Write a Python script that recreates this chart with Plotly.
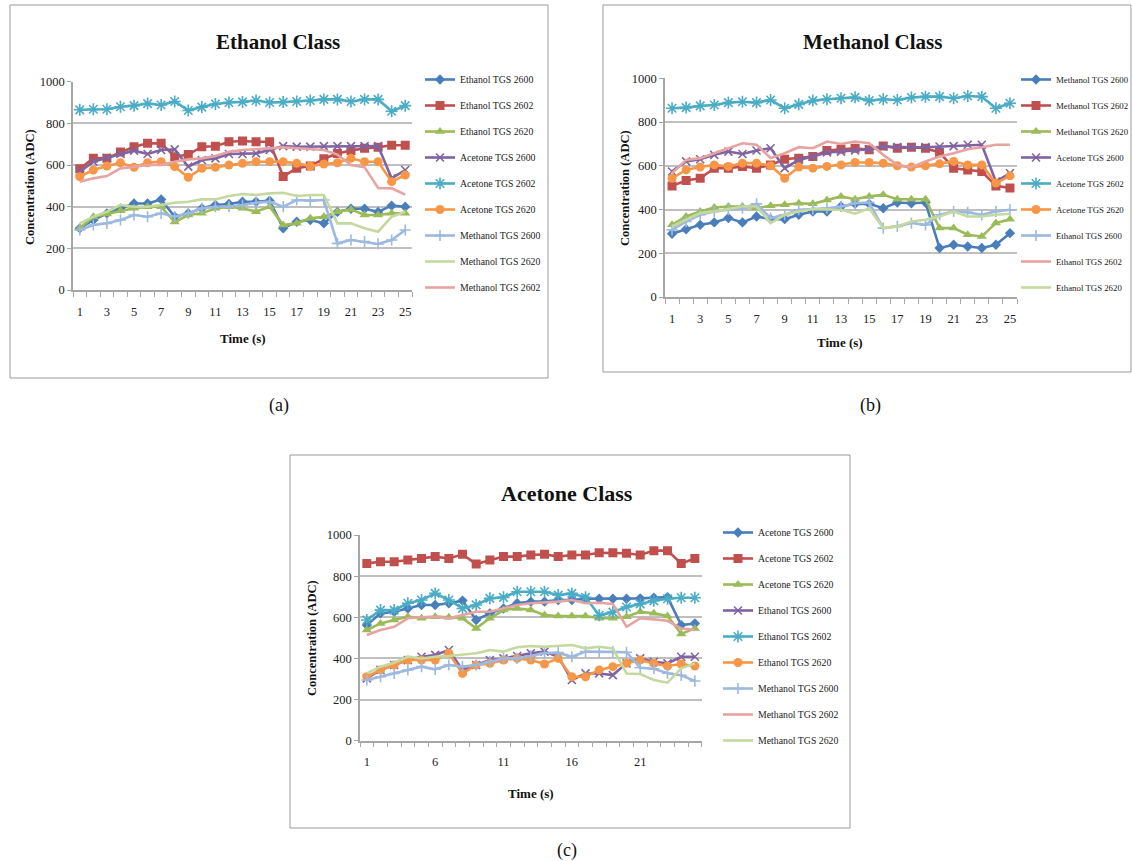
import plotly.graph_objects as go

W, H = 1132, 861
t = list(range(1, 26))

# ---------------- Panel (a) Ethanol Class ----------------
a_names = ["Ethanol TGS 2600", "Ethanol TGS 2602", "Ethanol TGS 2620", "Acetone TGS 2600",
           "Acetone TGS 2602", "Acetone TGS 2620", "Methanol TGS 2600", "Methanol TGS 2620",
           "Methanol TGS 2602"]
a_eth_2600 = [296, 336, 368, 392, 415, 415, 435, 352, 368, 392, 408, 413, 424, 424, 429, 296, 328, 336, 320, 375, 390, 390, 375, 405, 400]
a_eth_2602 = [582, 632, 633, 662, 688, 704, 704, 640, 650, 688, 690, 712, 715, 712, 712, 545, 585, 595, 630, 655, 670, 680, 685, 695, 695]
a_eth_2620 = [296, 352, 365, 380, 392, 400, 400, 326, 360, 368, 392, 400, 392, 376, 400, 312, 320, 344, 352, 376, 387, 360, 360, 368, 368]
a_ace_2600 = [568, 616, 635, 653, 669, 653, 672, 675, 592, 624, 632, 653, 653, 656, 672, 691, 688, 688, 691, 691, 691, 691, 691, 536, 576]
a_ace_2602 = [865, 868, 868, 880, 885, 895, 888, 905, 862, 878, 893, 900, 903, 910, 900, 902, 905, 910, 915, 915, 905, 915, 915, 858, 885]
a_ace_2620 = [544, 576, 595, 611, 589, 611, 616, 592, 541, 584, 589, 600, 608, 616, 616, 616, 608, 595, 605, 611, 632, 616, 616, 520, 552]
a_met_2600 = [288, 312, 320, 336, 360, 352, 368, 352, 368, 392, 400, 400, 408, 419, 424, 400, 432, 429, 432, 224, 240, 232, 221, 240, 288]
a_met_2620 = [320, 352, 376, 408, 400, 400, 408, 419, 424, 435, 435, 451, 461, 456, 464, 467, 451, 456, 456, 320, 320, 296, 280, 352, 376]
a_met_2602 = [520, 536, 547, 584, 592, 600, 600, 616, 627, 632, 643, 664, 672, 675, 680, 685, 680, 678, 672, 650, 600, 590, 490, 488, 458]
a_series = [a_eth_2600, a_eth_2602, a_eth_2620, a_ace_2600, a_ace_2602, a_ace_2620,
            a_met_2600, a_met_2620, a_met_2602]

# ---------------- Panel (b) Methanol Class ----------------
b_names = ["Methanol TGS 2600", "Methanol TGS 2602", "Methanol TGS 2620", "Acetone TGS 2600",
           "Acetone TGS 2602", "Acetone TGS 2620", "Ethanol TGS 2600", "Ethanol TGS 2602",
           "Ethanol TGS 2620"]
b_met_2600 = [289, 310, 330, 341, 361, 341, 368, 356, 356, 376, 391, 391, 414, 426, 426, 406, 432, 429, 432, 224, 239, 231, 224, 239, 292]
b_met_2602 = [508, 533, 543, 589, 589, 597, 589, 604, 630, 635, 642, 670, 676, 680, 673, 691, 680, 685, 680, 661, 589, 581, 574, 508, 498]
b_met_2620 = [330, 368, 391, 409, 414, 414, 406, 417, 422, 429, 426, 444, 460, 447, 460, 467, 447, 447, 447, 315, 315, 285, 277, 338, 356]
b_ace_2600 = [574, 620, 630, 650, 665, 654, 670, 680, 589, 627, 642, 661, 665, 670, 676, 688, 685, 685, 685, 688, 690, 696, 696, 528, 566]
b_ace_2602 = [863, 866, 874, 878, 889, 893, 889, 901, 863, 881, 898, 904, 909, 913, 898, 904, 901, 912, 916, 916, 909, 919, 916, 863, 886]
b_ace_2620 = [543, 581, 594, 604, 597, 612, 612, 600, 543, 594, 589, 597, 604, 615, 615, 612, 600, 594, 600, 609, 620, 604, 604, 521, 554]
b_eth_2600 = [307, 345, 376, 391, 399, 406, 426, 361, 376, 399, 402, 406, 414, 429, 432, 315, 323, 338, 330, 376, 391, 387, 376, 391, 399]
b_eth_2602 = [566, 627, 635, 657, 680, 703, 696, 635, 657, 685, 680, 711, 700, 711, 703, 650, 604, 594, 620, 642, 657, 676, 685, 696, 696]
b_eth_2620 = [323, 353, 384, 391, 402, 414, 414, 338, 376, 391, 402, 402, 399, 381, 406, 315, 323, 345, 353, 368, 391, 368, 368, 376, 381]
b_series = [b_met_2600, b_met_2602, b_met_2620, b_ace_2600, b_ace_2602, b_ace_2620,
            b_eth_2600, b_eth_2602, b_eth_2620]

# ---------------- Panel (c) Acetone Class ----------------
c_names = ["Acetone TGS 2600", "Acetone TGS 2602", "Acetone TGS 2620", "Ethanol TGS 2600",
           "Ethanol TGS 2602", "Ethanol TGS 2620", "Methanol TGS 2600", "Methanol TGS 2602",
           "Methanol TGS 2620"]
c_ace_2600 = [562, 619, 627, 643, 660, 660, 668, 681, 587, 619, 643, 668, 676, 676, 684, 684, 690, 690, 690, 690, 692, 695, 698, 562, 570]
c_ace_2602 = [862, 870, 870, 878, 886, 895, 886, 906, 859, 878, 895, 895, 903, 906, 895, 903, 903, 914, 914, 911, 903, 924, 924, 862, 886]
c_ace_2620 = [538, 570, 587, 603, 595, 603, 600, 595, 546, 595, 635, 643, 635, 611, 606, 606, 606, 595, 595, 603, 627, 619, 606, 519, 546]
c_eth_2600 = [303, 344, 368, 392, 408, 417, 441, 344, 368, 392, 400, 412, 425, 433, 408, 295, 327, 327, 319, 376, 400, 384, 376, 408, 408]
c_eth_2602 = [587, 635, 635, 668, 684, 716, 684, 643, 660, 692, 697, 724, 724, 724, 708, 716, 697, 610, 625, 650, 665, 680, 690, 695, 695]
c_eth_2620 = [311, 344, 368, 392, 392, 392, 425, 327, 368, 376, 392, 400, 392, 373, 400, 311, 311, 344, 360, 376, 392, 376, 363, 373, 363]
c_met_2600 = [295, 311, 327, 344, 360, 347, 368, 360, 368, 384, 400, 400, 412, 425, 428, 408, 433, 433, 433, 430, 355, 350, 328, 318, 290]
c_met_2602 = [514, 538, 554, 595, 600, 603, 595, 611, 627, 627, 643, 660, 668, 671, 676, 684, 668, 671, 665, 554, 595, 590, 583, 546, 538]
c_met_2620 = [327, 360, 379, 408, 400, 408, 412, 417, 425, 441, 433, 454, 460, 457, 460, 465, 449, 457, 449, 327, 324, 295, 282, 352, 376]
c_series = [c_ace_2600, c_ace_2602, c_ace_2620, c_eth_2600, c_eth_2602, c_eth_2620,
            c_met_2600, c_met_2602, c_met_2620]

# ---------------- styles ----------------
BLUE, RED, GREEN, PURPLE, TEAL, ORANGE = "#4A7EBB", "#C0504D", "#9BBB59", "#8064A2", "#4BACC6", "#F79646"
LBLUE, LGREEN, PINK = "#9DB9DF", "#C4D99E", "#E6A3A2"
base_styles = [
    (BLUE, "diamond", 8, False),
    (RED, "square", 9, False),
    (GREEN, "triangle-up", 9, False),
    (PURPLE, "x-thin-open", 8, True),
    (TEAL, "asterisk-open", 10, True),
    (ORANGE, "circle", 9, False),
    (LBLUE, "cross-thin-open", 8, True),
]
a_colors = base_styles + [(LGREEN, None, 0, False), (PINK, None, 0, False)]
b_colors = base_styles + [(PINK, None, 0, False), (LGREEN, None, 0, False)]
c_colors = base_styles + [(PINK, None, 0, False), (LGREEN, None, 0, False)]

FONT = "Liberation Serif"
fig = go.Figure()

def add_panel(names, series, styles, xa, ya, leg, key):
    for i, (nm, vals, st) in enumerate(zip(names, series, styles)):
        col, sym, sz, openm = st
        if sym is None:
            mode, marker = "lines", None
        else:
            mode = "lines+markers"
            marker = dict(symbol=sym, size=sz, color=col,
                          line=dict(width=1.6 if openm else 0, color=col))
        fig.add_trace(go.Scatter(x=t, y=vals, name=nm, mode=mode, marker=marker,
                                 line=dict(color=col, width=2.6), xaxis=xa, yaxis=ya,
                                 legend=leg, legendgroup=f"{key}{i}"))

add_panel(a_names, a_series, a_colors, "x", "y", "legend", "a")
add_panel(b_names, b_series, b_colors, "x2", "y2", "legend2", "b")
add_panel(c_names, c_series, c_colors, "x3", "y3", "legend3", "c")

GRID = "#BFBFBF"
AX = "#A6A6A6"

def px_x(p):
    return p / W

def px_y(p):
    return 1 - p / H

def xaxis(x0, x1, yanchor, tickvals):
    return dict(domain=[px_x(x0), px_x(x1)], anchor=yanchor, range=[0.5, 25.5],
                tickvals=tickvals, ticktext=[str(v) for v in tickvals], ticks="",
                showgrid=False, zeroline=False, showline=True, linecolor=AX, linewidth=1.5,
                ticklabelstandoff=9,
                minor=dict(ticks="outside", tick0=0.5, dtick=1, ticklen=5, tickcolor=AX,
                           tickwidth=1, showgrid=False),
                tickfont=dict(family=FONT, size=12.5, color="#222"), fixedrange=True)

def yaxis(y0px, y1px, xanchor):
    return dict(domain=[px_y(y0px), px_y(y1px)], anchor=xanchor, range=[0, 1000],
                tickvals=[0, 200, 400, 600, 800, 1000], ticks="outside", ticklen=4,
                tickcolor=AX, showgrid=True, gridcolor=GRID, gridwidth=1.6,
                zeroline=False, showline=True, linecolor=AX, linewidth=1.5,
                tickfont=dict(family=FONT, size=12.5, color="#222"), fixedrange=True)

fig.update_layout(
    xaxis=xaxis(73, 412, "y", list(range(1, 26, 2))),
    yaxis=yaxis(290, 81.7, "x"),
    xaxis2=xaxis(665, 1017, "y2", list(range(1, 26, 2))),
    yaxis2=yaxis(297, 78.3, "x2"),
    xaxis3=xaxis(360, 701.7, "y3", [1, 6, 11, 16, 21]),
    yaxis3=yaxis(740.7, 535, "x3"),
)

def legend(xpx, ypx, size):
    return dict(x=px_x(xpx), y=px_y(ypx), xanchor="left", yanchor="top",
                font=dict(family=FONT, size=size, color="#222"), tracegroupgap=7,
                bgcolor="rgba(0,0,0,0)", itemwidth=30, traceorder="grouped")

fig.update_layout(
    width=W, height=H, margin=dict(l=0, r=0, t=0, b=0, autoexpand=False),
    paper_bgcolor="white", plot_bgcolor="white", showlegend=True,
    legend=legend(420, 65, 9.8),
    legend2=legend(1016, 65, 8.8),
    legend3=legend(718, 518, 9.8),
)

shapes = []
for (x0, y0, x1, y1) in [(10, 5, 548, 378), (603, 5, 1131, 372), (290, 455, 850, 828)]:
    shapes.append(dict(type="rect", xref="paper", yref="paper", x0=px_x(x0), x1=px_x(x1),
                       y0=px_y(y1), y1=px_y(y0), line=dict(color="#9A9A9A", width=1),
                       fillcolor="rgba(0,0,0,0)", layer="below"))
fig.update_layout(shapes=shapes)

ann = []
def text(xpx, ypx, s, size, bold=False, angle=0):
    ann.append(dict(x=px_x(xpx), y=px_y(ypx), xref="paper", yref="paper", text=f"<b>{s}</b>" if bold else s,
                    showarrow=False, textangle=angle, xanchor="center", yanchor="middle",
                    font=dict(family=FONT, size=size, color="#111")))

text(278, 42, "Ethanol Class", 21, True)
text(872, 42, "Methanol Class", 21, True)
text(567, 494, "Acetone Class", 22, True)
text(243, 338, "Time (s)", 13, True)
text(840, 342, "Time (s)", 13, True)
text(531, 793, "Time (s)", 13, True)
text(30, 187, "Concentration (ADC)", 12.5, True, -90)
text(625, 188, "Concentration (ADC)", 12.5, True, -90)
text(312, 638, "Concentration (ADC)", 12.5, True, -90)
text(279, 405, "(a)", 18)
text(870, 405, "(b)", 18)
text(567, 850, "(c)", 18)
fig.update_layout(annotations=ann)

fig.write_html("out.html", config={"displayModeBar": False},
               post_script="document.body.style.margin='0';document.body.style.overflow='hidden';")
